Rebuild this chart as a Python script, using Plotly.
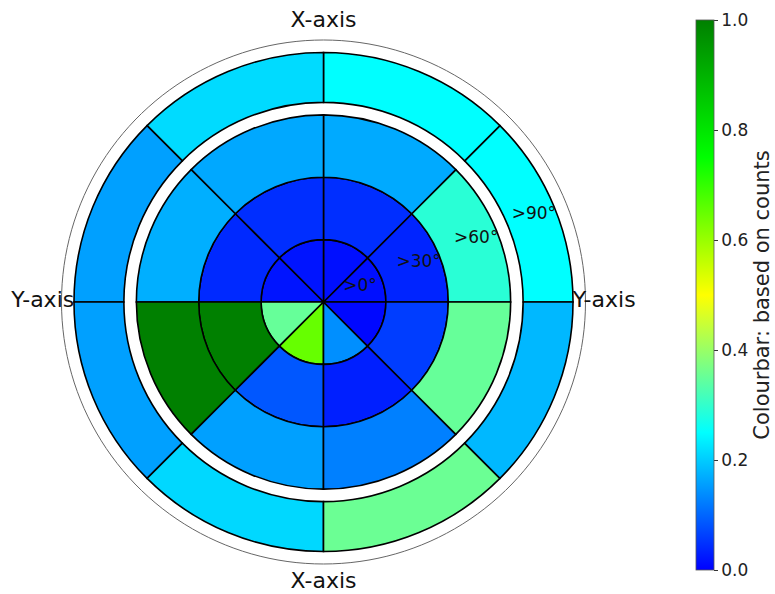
import plotly.graph_objects as go

# Sector centres (degrees, counter-clockwise from east) and width
sector_centres = [22.5, 67.5, 112.5, 157.5, 202.5, 247.5, 292.5, 337.5]
sector_width = 45

# Ring edges (radial units): inner rings 0-30-60-90, gap, outer ring
ring_bases = [0, 30, 60, 96]
ring_tops = [30, 60, 90, 120]
ring_names = [">0°", ">30°", ">60°", ">90°"]
frame_r = 126

# Normalised counts per ring (rows) and sector (columns)
values = [
    [0.015, 0.015, 0.02, 0.02, 0.35, 0.65, 0.14, 0.008],   # >0°
    [0.035, 0.045, 0.045, 0.04, 1.0, 0.085, 0.03, 0.06],   # >30°
    [0.29, 0.167, 0.165, 0.172, 1.0, 0.157, 0.125, 0.35],  # >60°
    [0.25, 0.25, 0.215, 0.157, 0.157, 0.212, 0.355, 0.18], # >90°
]

# Angular labels
ang_tickvals = [0, 90, 180, 270]
ang_ticktext = ["Y-axis", "X-axis", "Y-axis", "X-axis"]
ang_label_r = 135

# Radial labels (placed along the 22.5 degree direction)
rad_tickvals = [19, 49.5, 79.5, 109.5]
rad_label_angle = 22.5

colorscale = [
    [0.0, "#0000ff"],
    [0.25, "#00ffff"],
    [0.5, "#ffff00"],
    [0.75, "#00ff00"],
    [1.0, "#008000"],
]

R_MAX = 140
CX, CY, PX_PER_UNIT = 323.5, 302.0, 262.0 / frame_r
rad_px = R_MAX * PX_PER_UNIT

theta, r, base, color = [], [], [], []
for i in range(len(ring_bases)):
    for j, th in enumerate(sector_centres):
        theta.append(th)
        base.append(ring_bases[i])
        r.append(ring_tops[i] - ring_bases[i])
        color.append(values[i][j])

fig = go.Figure()

# Outer frame circle
frame_theta = [k * 2 for k in range(181)]
fig.add_trace(go.Scatterpolar(
    r=[frame_r] * len(frame_theta),
    theta=frame_theta,
    mode="lines",
    line=dict(color="#666666", width=1),
    hoverinfo="skip",
    showlegend=False,
))

fig.add_trace(go.Barpolar(
    theta=theta,
    r=r,
    base=base,
    width=[sector_width] * len(theta),
    marker=dict(
        color=color,
        colorscale=colorscale,
        cmin=0, cmax=1,
        line=dict(color="black", width=1.6),
        showscale=True,
        colorbar=dict(
            x=696 / 775, xanchor="left", xpad=0,
            y=1 - 295 / 594, yanchor="middle", ypad=0,
            len=550 / 594, lenmode="fraction",
            thickness=18,
            outlinecolor="#555555", outlinewidth=0.8,
            tickvals=[0, 0.2, 0.4, 0.6, 0.8, 1.0],
            ticktext=["0.0", "0.2", "0.4", "0.6", "0.8", "1.0"],
            ticks="outside", ticklen=4, tickcolor="#333333",
            tickfont=dict(size=17, color="#222222", family="DejaVu Sans"),
            title=dict(text="Colourbar: based on counts", side="right",
                       font=dict(size=21, color="#222222", family="DejaVu Sans")),
        ),
    ),
    hoverinfo="skip",
))

# Angular labels as text
fig.add_trace(go.Scatterpolar(
    r=[ang_label_r] * len(ang_tickvals),
    theta=ang_tickvals,
    text=ang_ticktext,
    mode="text",
    textposition="middle center",
    textfont=dict(size=22, family="DejaVu Sans", color="#111111"),
    cliponaxis=False,
    hoverinfo="skip",
    showlegend=False,
))

# Radial ring labels as text
fig.add_trace(go.Scatterpolar(
    r=rad_tickvals,
    theta=[rad_label_angle] * len(rad_tickvals),
    text=ring_names,
    mode="text",
    textposition="middle center",
    textfont=dict(size=17, family="DejaVu Sans", color="#111111"),
    cliponaxis=False,
    hoverinfo="skip",
    showlegend=False,
))

fig.update_layout(
    width=775, height=594,
    margin=dict(l=0, r=0, t=0, b=0, autoexpand=False),
    paper_bgcolor="white",
    showlegend=False,
    font=dict(family="DejaVu Sans", color="#111111"),
    polar=dict(
        domain=dict(x=[(CX - rad_px) / 775, (CX + rad_px) / 775],
                    y=[1 - (CY + rad_px) / 594, 1 - (CY - rad_px) / 594]),
        bgcolor="rgba(0,0,0,0)",
        bargap=0,
        angularaxis=dict(
            rotation=0, direction="counterclockwise",
            showticklabels=False,
            showgrid=False, ticks="",
            showline=False,
        ),
        radialaxis=dict(
            range=[0, R_MAX],
            showticklabels=False,
            showgrid=False, showline=False, ticks="",
        ),
    ),
)

fig.write_html("out.html")
